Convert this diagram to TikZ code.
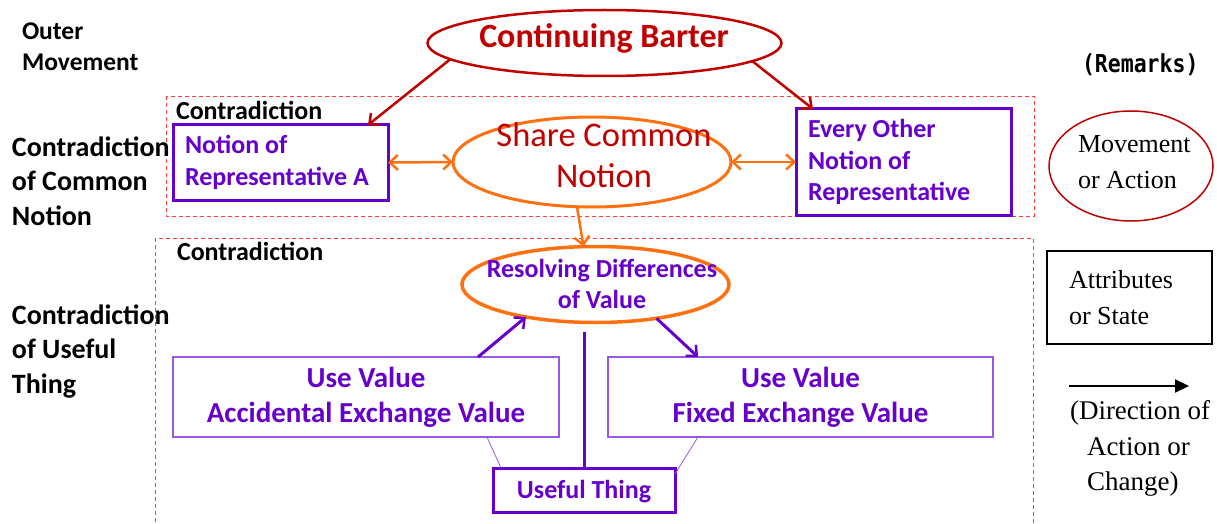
\documentclass[tikz,border=0pt]{standalone}
\usepackage{fontspec}
\setmainfont{Carlito}
\newfontfamily\serifrm{Liberation Serif}
\newfontfamily\gothicmono{DejaVu Sans Mono}
\usetikzlibrary{shapes.geometric,arrows.meta}
\definecolor{barterred}{RGB}{192,0,0}
\definecolor{notionorange}{RGB}{255,112,16}
\definecolor{valuepurple}{RGB}{102,0,204}
\definecolor{thinpurple}{RGB}{150,90,225}
\definecolor{dashred}{RGB}{255,60,60}
\newcommand\pxsize[2]{\fontsize{#1}{#2}\selectfont}
\tikzset{
  every node/.style={inner sep=0pt, outer sep=0pt},
  barb/.style={-{Straight Barb[length=8pt,width=15pt,line width=2.5pt]}},
  dblbarb/.style={{Straight Barb[length=8pt,width=15pt,line width=2.5pt]}-{Straight Barb[length=8pt,width=15pt,line width=2.5pt]}},
  region/.style={draw=dashred, line width=0.9pt, dash pattern=on 4pt off 3pt},
  heading/.style={font=\bfseries\pxsize{28}{34.5}, align=flush left, anchor=base west},
  regionlabel/.style={font=\bfseries\pxsize{26}{28}, anchor=base west},
  notionbox/.style={draw=valuepurple, line width=3pt, text=valuepurple, font=\bfseries\pxsize{26}{31.5}, align=flush left, inner xsep=12pt},
  valuebox/.style={draw=thinpurple, line width=1.2pt, text=valuepurple, font=\bfseries\pxsize{29}{35}, align=flush center},
  movement/.style={ellipse, draw, inner sep=0pt},
  remark/.style={font=\serifrm\pxsize{26}{36}, align=flush left, anchor=base west},
}
\begin{document}
\begin{tikzpicture}[x=1pt,y=-1pt]
\useasboundingbox (0,0) rectangle (1217,524);
\fill[white] (0,0) rectangle (1217,524);

% dashed regions
\begin{scope}
\clip (0,0) rectangle (1217,524);
\draw[region] (166,96) rectangle (1034,216);
\draw[region] (155,238) rectangle (1033,540);
\end{scope}

% row headings (base anchor sits on the last line)
\node[heading, font=\bfseries\pxsize{25.5}{31}] (outer) at (22,71) {Outer\\Movement};
\node[heading] (commonhead) at (12,225) {Contradiction\\of Common\\Notion};
\node[heading] (usefulhead) at (12,393) {Contradiction\\of Useful\\Thing};
\node[regionlabel] (lab1) at (176,120) {Contradiction};
\node[regionlabel] (lab2) at (177,260) {Contradiction};

% outer movement
\node[movement, draw=barterred, line width=2.5pt, minimum width=354pt, minimum height=66pt] (barter) at (604.5,43) {};
\node[text=barterred, font=\bfseries\pxsize{34}{36}, anchor=base] (bartertext) at (604,48) {Continuing Barter};

% common notion
\node[notionbox, text width=191pt, minimum width=215pt, minimum height=75pt] (repA) at (280.5,162.5)
  {Notion of\\Representative A};
\node[notionbox, text width=191pt, minimum width=215pt, minimum height=106pt] (repB) at (903.5,162)
  {Every Other\\Notion of\\Representative};
\node[movement, draw=notionorange, line width=3pt, minimum width=278pt, minimum height=90pt] (share) at (592,162) {};
\node[text=barterred, font=\pxsize{34.5}{41}, align=flush center, anchor=base] (sharetext) at (604,187) {Share Common\\Notion};

% useful thing
\node[movement, draw=notionorange, line width=3.5pt, minimum width=267pt, minimum height=76pt] (resolve) at (595.5,284.5) {};
\node[text=valuepurple, font=\bfseries\pxsize{26}{31}, align=flush center, anchor=base] (resolvetext) at (602,308) {Resolving Differences\\of Value};
\node[valuebox, minimum width=386pt, minimum height=80pt] (accid) at (366,397)
  {Use Value\\Accidental Exchange Value};
\node[valuebox, minimum width=385pt, minimum height=80pt] (fixed) at (800.5,397)
  {Use Value\\Fixed Exchange Value};
\node[draw=valuepurple, line width=3pt, minimum width=182pt, minimum height=44pt] (thing) at (584,490) {};
\node[text=valuepurple, font=\bfseries\pxsize{26}{28}, anchor=base] (thingtext) at (584,498) {Useful Thing};
\coordinate (stem) at (584,332);

% connectors
\draw[barb, barterred, line width=2.5pt] (barter.186.7) -- ([xshift=-20pt]repA.north east);
\draw[barb, barterred, line width=2.5pt] (barter.-7) -- ([xshift=17pt]repB.north west);
\draw[dblbarb, notionorange, line width=2.5pt] (repA.east) -- (share.west);
\draw[dblbarb, notionorange, line width=2.5pt] (share.east) -- (repB.west);
\draw[barb, notionorange, line width=2.5pt] ([xshift=-15pt]share.south) -- ([xshift=-12pt]resolve.north);
\draw[barb, valuepurple, line width=3pt] ([xshift=-81pt]accid.north east) -- (resolve.205);
\draw[barb, valuepurple, line width=3pt] (resolve.-29) -- ([xshift=90pt]fixed.north west);
\draw[valuepurple, line width=3pt] (thing.north) -- (stem);
\draw[thinpurple, line width=0.8pt] ([xshift=8pt]thing.north west) -- ([xshift=-72pt]accid.south east);
\draw[thinpurple, line width=0.8pt] ([yshift=-6pt]thing.north east) -- ([xshift=90pt]fixed.south west);

% remarks
\node[font=\gothicmono\bfseries\pxsize{21.5}{24}, anchor=base west, yscale=1.15] (remarks) at (1082,73) {(Remarks)};
\node[movement, draw=barterred, line width=1.5pt, minimum width=164pt, minimum height=110pt] (legmove) at (1131,166) {};
\node[remark] (legmovetext) at (1078,188) {Movement\\or Action};
\node[draw=black, line width=1.5pt, minimum width=165pt, minimum height=93pt] (legattr) at (1129.5,297.5) {};
\node[remark] (legattrtext) at (1069,324) {Attributes\\or State};
\coordinate (dirstart) at (1069,386);
\coordinate (dirend) at (1189,386);
\draw[-{Triangle[length=14pt,width=13pt]}, line width=2pt] (dirstart) -- (dirend);
\node[remark, font=\serifrm\pxsize{27}{36}] (dir1) at (1070,419) {(Direction of};
\node[remark, font=\serifrm\pxsize{27}{36}] (dir2) at (1087,455) {Action or};
\node[remark, font=\serifrm\pxsize{27}{36}] (dir3) at (1087,490) {Change)};
\end{tikzpicture}
\end{document}
